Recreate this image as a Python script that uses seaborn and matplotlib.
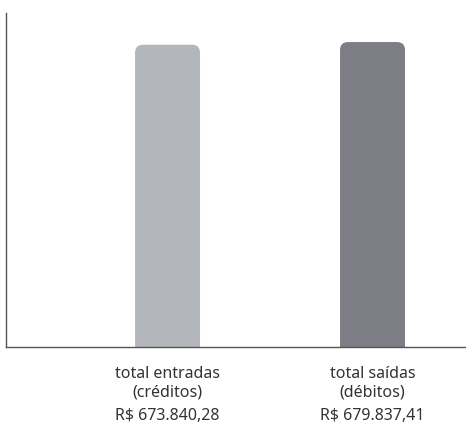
import matplotlib
matplotlib.use("Agg")
import matplotlib.pyplot as plt
import seaborn as sns
import pandas as pd
from matplotlib.patches import FancyBboxPatch

categories = ["total entradas\n(créditos)", "total saídas\n(débitos)"]
values = [673840.28, 679837.41]
value_labels = ["R$ 673.840,28", "R$ 679.837,41"]
colors = ["#b3b6bb", "#7c7d85"]

sns.set_style("white")
plt.rcParams["font.family"] = ["Noto Sans", "DejaVu Sans"]

df = pd.DataFrame({"cat": categories, "val": values})

fig = plt.figure(figsize=(4.66, 4.25), dpi=100)
ax = fig.add_axes([6 / 466, 78 / 425, 460 / 466, 334 / 425])

sns.barplot(data=df, x="cat", y="val", hue="cat", palette=colors,
            width=0.317, ax=ax, legend=False, saturation=1)

ymax = 744600
rad = 0.039                      # corner radius in x units (~8 px)
aspect = (ymax / 334) * 205      # y units per x unit, in pixel terms

# rounded tops (bottom corners pushed below the axis and clipped)
for p in list(ax.patches):
    x, y = p.get_x(), p.get_y()
    w, h = p.get_width(), p.get_height()
    fc = p.get_facecolor()
    p.set_visible(False)
    off = rad * aspect
    rp = FancyBboxPatch((x, y - off), w, h + off,
                        boxstyle="round,pad=0,rounding_size=%f" % rad,
                        mutation_aspect=aspect,
                        facecolor=fc, edgecolor="none")
    ax.add_patch(rp)

ax.set_xlim(-0.788, 1.456)
ax.set_ylim(0, ymax)
ax.set_yticks([])
ax.set_xlabel("")
ax.set_ylabel("")
ax.tick_params(axis="x", length=0, pad=14, labelsize=11.5, colors="#333333")

for s in ["top", "right"]:
    ax.spines[s].set_visible(False)
for s in ["left", "bottom"]:
    ax.spines[s].set_color("#555555")
    ax.spines[s].set_linewidth(1.0)
    ax.spines[s].set_zorder(5)

for i, lab in enumerate(value_labels):
    ax.text(i, -0.207, lab, transform=ax.get_xaxis_transform(),
            ha="center", va="center", fontsize=11.5, color="#333333")

fig.savefig("out.png", dpi=100)
